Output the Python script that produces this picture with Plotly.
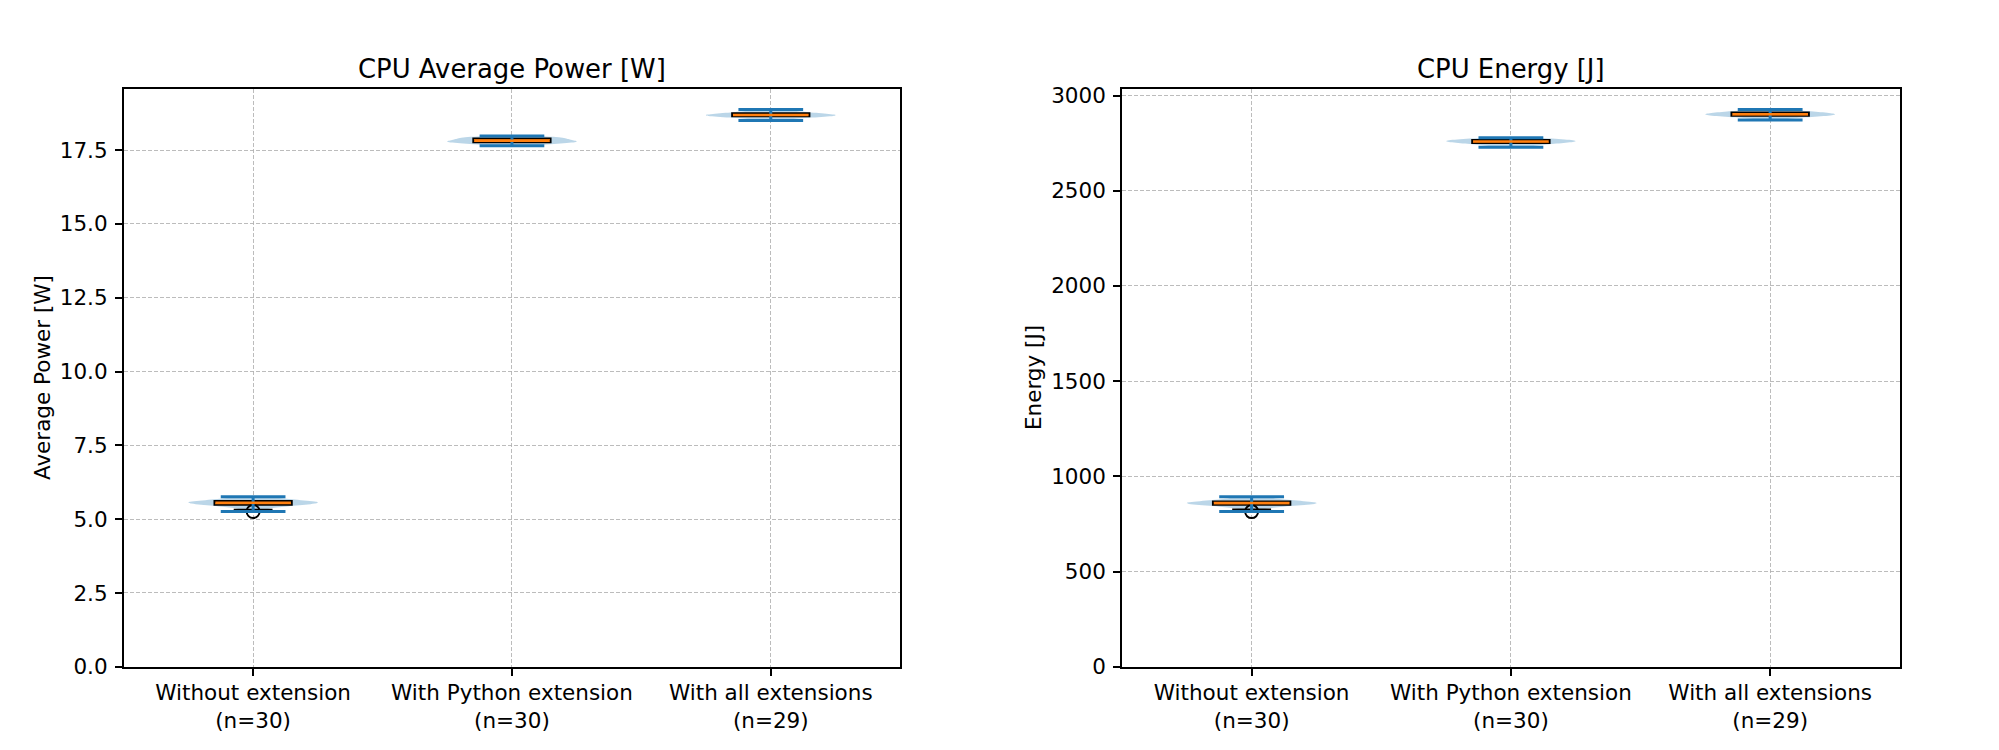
import numpy as np
import plotly.graph_objects as go

# ---------------- data ----------------
categories = ["Without extension", "With Python extension", "With all extensions"]
positions = [1, 2, 3]

power_without = [5.26, 5.33, 5.38, 5.42, 5.44, 5.46, 5.47, 5.48, 5.49, 5.50,
                 5.52, 5.53, 5.54, 5.55, 5.56, 5.56, 5.57, 5.58, 5.58, 5.59,
                 5.60, 5.61, 5.62, 5.63, 5.65, 5.67, 5.69, 5.71, 5.73, 5.76]
power_python = [17.65, 17.68, 17.70, 17.72, 17.73, 17.74, 17.75, 17.76, 17.76, 17.77,
                17.78, 17.79, 17.80, 17.81, 17.82, 17.82, 17.83, 17.84, 17.85, 17.87,
                17.88, 17.89, 17.90, 17.91, 17.92, 17.93, 17.94, 17.95, 17.96, 17.98]
power_all = [18.50, 18.55, 18.58, 18.60, 18.61, 18.62, 18.63, 18.64, 18.65, 18.66,
             18.66, 18.67, 18.68, 18.68, 18.69, 18.70, 18.71, 18.71, 18.72, 18.73,
             18.74, 18.75, 18.76, 18.77, 18.79, 18.81, 18.83, 18.85, 18.88]

energy_without = [815, 827, 834, 839, 843, 846, 848, 850, 851, 852,
                  854, 855, 857, 858, 859, 860, 861, 862, 863, 865,
                  866, 868, 869, 871, 873, 876, 879, 883, 887, 893]
energy_python = [2728, 2733, 2737, 2740, 2743, 2745, 2747, 2749, 2750, 2751,
                 2753, 2754, 2756, 2757, 2758, 2759, 2760, 2761, 2762, 2763,
                 2764, 2766, 2767, 2768, 2769, 2771, 2772, 2774, 2776, 2778]
energy_all = [2872, 2879, 2884, 2887, 2889, 2890, 2892, 2893, 2894, 2896,
              2897, 2898, 2899, 2901, 2902, 2903, 2904, 2905, 2907, 2908,
              2910, 2911, 2912, 2914, 2916, 2918, 2921, 2924, 2927]

power_ticks = [0, 2.5, 5.0, 7.5, 10.0, 12.5, 15.0, 17.5]
energy_ticks = [0, 500, 1000, 1500, 2000, 2500, 3000]

power_title = "CPU Average Power [W]"
power_ylabel = "Average Power [W]"
energy_title = "CPU Energy [J]"
energy_ylabel = "Energy [J]"

# ---------------- style ----------------
BLUE = "#1f77b4"
ORANGE = "#ff7f0e"
VIOLIN_FILL = "rgba(31,119,180,0.3)"
FONT = "DejaVu Sans"
TICK_SIZE = 21.5
TITLE_SIZE = 25.9

VIOLIN_W = 0.5
BOX_W = 0.3

# page body has an 8px margin: figure occupies 1983x734 starting at (8, 8)
FIG_W, FIG_H, OFF = 1983, 734, 8


def px_x(X):
    return (X - OFF) / FIG_W


def px_y(Y):
    return (OFF + FIG_H - Y) / FIG_H


fig = go.Figure()


def add_panel(groups, xa, ya):
    for p, d in zip(positions, groups):
        arr = np.asarray(d, dtype=float)
        bw = arr.std(ddof=1) * len(arr) ** -0.2  # Scott's rule
        fig.add_trace(go.Violin(
            x=[p] * len(arr), y=arr, xaxis=xa, yaxis=ya, orientation="v",
            width=VIOLIN_W, spanmode="hard", bandwidth=bw, scalemode="width",
            fillcolor=VIOLIN_FILL, line=dict(width=0, color=VIOLIN_FILL),
            points=False, box_visible=False, meanline_visible=False,
            hoverinfo="skip", showlegend=False))
    for p, d in zip(positions, groups):
        arr = np.asarray(d, dtype=float)
        fig.add_trace(go.Box(
            x=[p] * len(arr), y=arr, xaxis=xa, yaxis=ya, orientation="v",
            width=BOX_W, whiskerwidth=0.5, fillcolor=ORANGE,
            line=dict(color="black", width=1.6), boxpoints="outliers",
            jitter=0, pointpos=0, quartilemethod="linear",
            marker=dict(symbol="circle-open", size=13, color="black",
                        line=dict(color="black", width=2)),
            hoverinfo="skip", showlegend=False))
    for p, d in zip(positions, groups):
        arr = np.asarray(d, dtype=float)
        mn, mx, med = arr.min(), arr.max(), np.median(arr)
        hw = VIOLIN_W * 0.25
        fig.add_trace(go.Scatter(
            x=[p - hw, p + hw, None, p - hw, p + hw, None, p, p],
            y=[mx, mx, None, mn, mn, None, mn, mx],
            xaxis=xa, yaxis=ya, mode="lines",
            line=dict(color=BLUE, width=3), hoverinfo="skip", showlegend=False))
        mhw = BOX_W / 2 - 0.004
        fig.add_trace(go.Scatter(
            x=[p - mhw, p + mhw], y=[med, med], xaxis=xa, yaxis=ya, mode="lines",
            line=dict(color=ORANGE, width=2.5), hoverinfo="skip", showlegend=False))


power_groups = [power_without, power_python, power_all]
energy_groups = [energy_without, energy_python, energy_all]
add_panel(power_groups, "x", "y")
add_panel(energy_groups, "x2", "y2")


def top_limit(groups):
    allv = np.concatenate([np.asarray(g, dtype=float) for g in groups])
    lo, hi = allv.min(), allv.max()
    return hi + 0.05 * (hi - lo)


tick_text = [f"{c}<br>(n={len(g)})" for c, g in zip(categories, power_groups)]
tick_text2 = [f"{c}<br>(n={len(g)})" for c, g in zip(categories, energy_groups)]

common = dict(
    showline=True, linecolor="black", linewidth=1.6, mirror=True,
    ticks="outside", ticklen=7, tickwidth=1.6, tickcolor="black",
    showgrid=True, gridcolor="rgba(176,176,176,0.85)", griddash="4px,2px",
    gridwidth=1, zeroline=False, automargin=False,
    tickfont=dict(family=FONT, size=TICK_SIZE, color="black"),
)

XD1 = [px_x(123.7), px_x(900.2)]
XD2 = [px_x(1122.0), px_x(1899.8)]
YD = [px_y(666.8), px_y(89.3)]

fig.update_layout(
    width=FIG_W, height=FIG_H,
    margin=dict(l=0, r=0, t=0, b=0, autoexpand=False),
    paper_bgcolor="white", plot_bgcolor="white",
    showlegend=False, boxmode="overlay", violinmode="overlay",
    font=dict(family=FONT, color="black"),
    xaxis=dict(domain=XD1, anchor="y", range=[0.5, 3.5], tickvals=positions,
               ticktext=tick_text, ticklabelstandoff=-1, **common),
    yaxis=dict(domain=YD, anchor="x", range=[0, top_limit(power_groups)],
               tickvals=power_ticks, ticktext=[f"{t:.1f}" for t in power_ticks],
               ticklabelstandoff=3, **common),
    xaxis2=dict(domain=XD2, anchor="y2", range=[0.5, 3.5], tickvals=positions,
                ticktext=tick_text2, ticklabelstandoff=-1, **common),
    yaxis2=dict(domain=YD, anchor="x2", range=[0, top_limit(energy_groups)],
                tickvals=energy_ticks, ticktext=[str(t) for t in energy_ticks],
                ticklabelstandoff=3, **common),
)

ymid = (YD[0] + YD[1]) / 2
for text, dom in ((power_title, XD1), (energy_title, XD2)):
    fig.add_annotation(text=text, xref="paper", yref="paper",
                       x=(dom[0] + dom[1]) / 2, y=px_y(69.0),
                       xanchor="center", yanchor="middle", showarrow=False,
                       font=dict(family=FONT, size=TITLE_SIZE, color="black"))
for text, X in ((power_ylabel, 42), (energy_ylabel, 1033)):
    fig.add_annotation(text=text, xref="paper", yref="paper",
                       x=px_x(X), y=ymid, textangle=-90,
                       xanchor="center", yanchor="middle", showarrow=False,
                       font=dict(family=FONT, size=TICK_SIZE, color="black"))

fig.write_html("out.html")
